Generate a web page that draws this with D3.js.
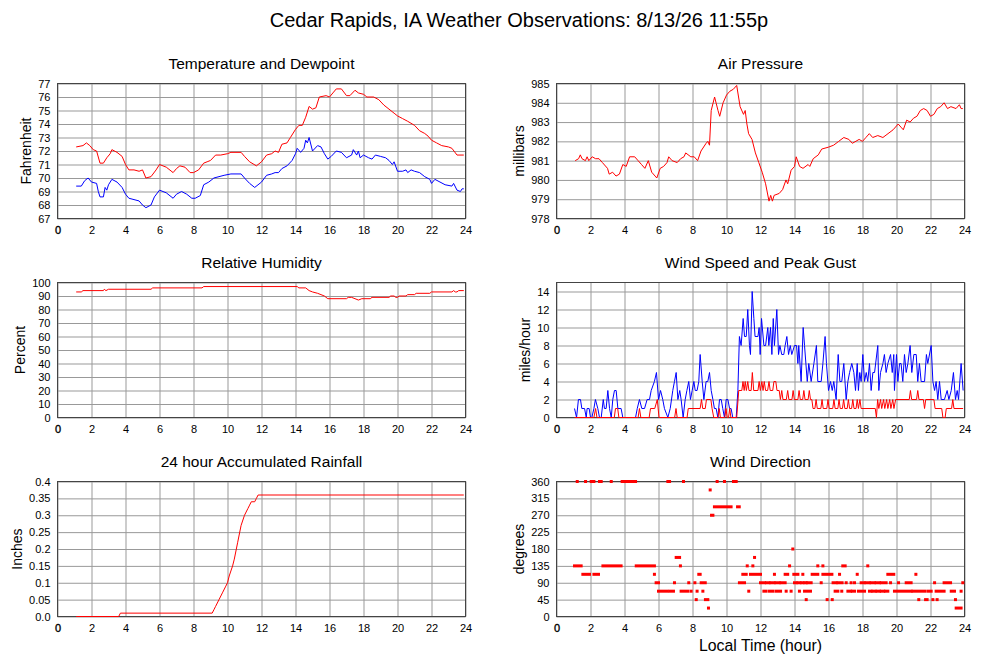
<!DOCTYPE html>
<html><head><meta charset="utf-8">
<script src="https://cdn.jsdelivr.net/npm/d3@7"></script>
<style>
body{margin:0;background:#fff}
text{font-family:"Liberation Sans",Arial,Helvetica,sans-serif;fill:#000}
</style>
</head><body>
<svg id="chart" width="1000" height="660"></svg>
<script>
// ---------------- DATA ----------------
const mainTitle = "Cedar Rapids, IA Weather Observations: 8/13/26 11:55p";
const hourTicks = [0,2,4,6,8,10,12,14,16,18,20,22,24];

const tempTicks = [67,68,69,70,71,72,73,74,75,76,77];
const temperature = [[1.1,72.3],[1.5,72.4],[1.7,72.6],[1.9,72.4],[2.1,72.1],[2.3,72.0],[2.5,71.1],[2.7,71.1],[2.9,71.5],[3.1,71.8],[3.2,72.1],[3.5,71.9],[3.8,71.6],[4.0,71.0],[4.2,70.6],[4.5,70.6],[4.8,70.5],[5.0,70.6],[5.2,70.0],[5.5,70.1],[5.8,70.6],[6.0,71.0],[6.4,70.8],[6.8,70.4],[7.0,70.7],[7.2,70.9],[7.5,70.8],[7.8,70.4],[8.0,70.4],[8.3,70.6],[8.6,71.1],[8.8,71.2],[9.0,71.3],[9.3,71.7],[9.6,71.7],[10.0,71.8],[10.2,71.9],[10.5,71.9],[10.8,71.9],[11.0,71.6],[11.3,71.2],[11.7,70.9],[12.0,71.2],[12.3,71.7],[12.6,71.8],[12.8,72.0],[13.0,71.9],[13.2,72.5],[13.5,72.6],[13.7,73.0],[14.0,73.6],[14.2,73.9],[14.4,73.9],[14.6,74.5],[14.8,75.3],[15.0,75.1],[15.2,75.2],[15.4,76.0],[15.8,76.1],[16.0,76.0],[16.2,76.3],[16.4,76.6],[16.7,76.6],[17.0,76.1],[17.2,76.1],[17.5,76.5],[17.7,76.3],[18.0,76.2],[18.2,76.0],[18.6,76.0],[18.9,75.8],[19.2,75.4],[19.5,75.1],[19.8,74.8],[20.0,74.6],[20.3,74.4],[20.6,74.2],[21.0,73.9],[21.3,73.5],[21.6,73.3],[21.8,73.1],[22.0,72.8],[22.3,72.6],[22.6,72.4],[23.0,72.3],[23.2,72.2],[23.5,71.7],[23.9,71.7]];
const dewpoint = [[1.1,69.4],[1.4,69.4],[1.6,69.8],[1.8,70.0],[2.0,69.7],[2.3,69.6],[2.4,69.0],[2.5,68.6],[2.7,68.6],[2.8,69.3],[2.9,69.1],[3.0,69.5],[3.2,69.9],[3.5,69.7],[3.8,69.3],[4.0,68.8],[4.2,68.5],[4.5,68.4],[4.8,68.3],[5.0,68.0],[5.2,67.8],[5.5,68.0],[5.7,68.6],[6.0,69.1],[6.4,68.9],[6.8,68.5],[7.0,68.8],[7.3,69.0],[7.6,68.8],[7.9,68.5],[8.1,68.5],[8.4,68.7],[8.6,69.5],[8.9,69.7],[9.2,70.0],[9.5,70.1],[9.8,70.2],[10.2,70.3],[10.8,70.3],[11.0,70.0],[11.3,69.6],[11.6,69.3],[12.0,69.7],[12.3,70.2],[12.6,70.3],[12.8,70.4],[13.0,70.4],[13.2,70.7],[13.5,70.9],[13.8,71.3],[14.0,71.8],[14.1,72.2],[14.3,71.9],[14.5,72.2],[14.6,72.8],[14.7,72.6],[14.8,73.0],[15.0,72.0],[15.3,72.4],[15.5,72.3],[15.7,71.8],[15.9,71.4],[16.1,71.6],[16.4,72.0],[16.7,71.9],[17.0,71.5],[17.3,71.7],[17.4,72.1],[17.6,71.7],[17.7,72.0],[17.8,71.5],[18.0,71.7],[18.3,71.5],[18.5,71.4],[18.7,71.7],[19.0,71.6],[19.3,71.5],[19.5,71.3],[19.7,71.0],[19.8,71.2],[20.0,70.5],[20.3,70.5],[20.5,70.6],[20.6,70.4],[20.8,70.6],[21.0,70.5],[21.3,70.4],[21.6,70.1],[21.9,69.9],[22.0,69.6],[22.2,69.9],[22.5,69.7],[22.8,69.5],[23.2,69.4],[23.3,69.6],[23.5,69.1],[23.7,69.0],[23.8,69.2],[23.9,69.2]];

const pressureTicks = [978,979,980,981,982,983,984,985];
const pressure = [[1.1,981.0],[1.3,981.1],[1.4,981.3],[1.5,981.1],[1.7,981.0],[1.8,981.2],[1.9,981.0],[2.1,981.2],[2.3,981.1],[2.5,981.1],[2.7,980.9],[3.0,980.6],[3.1,980.3],[3.3,980.4],[3.5,980.2],[3.7,980.3],[3.9,980.8],[4.1,980.7],[4.3,981.2],[4.6,981.2],[4.8,981.0],[5.0,980.8],[5.2,980.6],[5.4,981.0],[5.6,980.4],[5.8,980.2],[5.9,980.1],[6.1,980.6],[6.3,980.7],[6.5,980.9],[6.6,981.2],[6.8,981.0],[7.1,980.9],[7.3,981.1],[7.5,981.2],[7.6,981.4],[7.9,981.2],[8.1,981.2],[8.3,981.0],[8.5,981.5],[8.8,981.9],[8.9,982.0],[9.0,981.8],[9.1,983.6],[9.3,984.3],[9.5,983.6],[9.6,983.3],[9.8,984.0],[10.0,984.4],[10.2,984.6],[10.4,984.7],[10.6,984.9],[10.8,983.8],[11.0,983.4],[11.1,983.6],[11.2,982.9],[11.3,982.4],[11.5,982.1],[11.7,981.4],[11.9,980.9],[12.1,980.4],[12.3,979.8],[12.5,978.9],[12.6,979.2],[12.7,978.9],[12.8,979.2],[13.1,979.3],[13.3,979.5],[13.5,980.0],[13.6,979.8],[13.8,980.5],[14.0,980.7],[14.1,981.2],[14.3,980.7],[14.5,980.6],[14.8,980.8],[14.9,980.7],[15.1,981.1],[15.4,981.3],[15.6,981.6],[16.0,981.7],[16.3,981.8],[16.6,982.0],[16.9,982.2],[17.2,982.1],[17.4,981.9],[17.8,982.1],[18.0,982.0],[18.2,982.2],[18.4,982.4],[18.6,982.2],[18.9,982.3],[19.2,982.2],[19.5,982.4],[19.8,982.6],[20.1,982.9],[20.3,982.7],[20.4,982.6],[20.6,983.1],[20.8,983.0],[21.0,983.2],[21.2,983.3],[21.4,983.6],[21.6,983.7],[21.8,983.6],[22.0,983.3],[22.2,983.4],[22.4,983.7],[22.6,983.8],[22.8,984.0],[23.0,983.7],[23.2,983.8],[23.5,983.7],[23.7,983.9],[23.8,983.7],[23.9,983.7]];

const humidityTicks = [0,10,20,30,40,50,60,70,80,90,100];
const humidity = [[1.1,93],[1.4,93],[1.5,94],[2.7,94],[2.75,95],[2.85,94],[3.0,95],[5.5,95],[5.6,96],[8.5,96],[8.6,97],[14.1,97],[14.2,96],[14.6,96],[14.8,94],[15.0,93],[15.3,92],[15.5,91],[15.7,90],[15.9,88],[17.0,88],[17.1,89],[17.3,89],[17.5,88],[17.7,87],[17.9,88],[18.4,88],[18.5,89],[19.5,89],[19.6,90],[19.8,90],[19.9,89],[20.0,89],[20.1,90],[20.5,90],[20.6,91],[21.0,91],[21.1,92],[21.9,92],[22.0,93],[23.2,93],[23.3,94],[23.4,93],[23.5,93],[23.6,94],[23.9,94]];

const windTicks = [0,2,4,6,8,10,12,14];
const windGust = [[1.06,1],[1.18,0],[1.29,2],[1.41,2],[1.49,1],[1.65,1],[1.75,0],[1.8,1],[1.92,1],[2.0,0],[2.08,0],[2.2,1],[2.29,2],[2.43,1],[2.53,0],[2.63,0],[2.75,2],[2.82,1],[2.92,1],[3.02,3],[3.12,1],[3.22,0],[3.31,2],[3.41,3],[3.51,3],[3.61,1],[3.8,1],[3.9,0],[4.65,0],[4.75,1],[4.88,2],[5.02,1],[5.18,1],[5.33,2],[5.47,2],[5.57,3],[5.76,4],[5.88,5],[6.0,2],[6.12,3],[6.25,2],[6.35,1],[6.55,0],[6.69,1],[6.84,3],[6.94,4],[7.04,5],[7.14,2],[7.25,3],[7.33,2],[7.45,0],[7.57,2],[7.67,3],[7.78,4],[7.88,2],[7.98,3],[8.08,4],[8.16,3],[8.27,3],[8.37,4],[8.45,7],[8.57,4],[8.67,2],[8.8,4],[8.9,4],[9.0,5],[9.1,3],[9.2,2],[9.29,1],[9.39,1],[9.49,0],[9.59,2],[9.69,2],[9.78,1],[9.88,0],[9.98,2],[10.08,2],[10.18,1],[10.27,1],[10.37,0],[10.57,0],[10.67,3],[10.76,9],[10.86,8],[10.98,11],[11.06,9],[11.16,9],[11.25,12],[11.35,8],[11.41,7],[11.51,14],[11.61,11],[11.68,9],[11.85,9],[11.92,10],[11.98,7],[12.06,11],[12.2,8],[12.3,8],[12.43,10],[12.49,8],[12.59,10],[12.67,7],[12.75,11],[12.82,8],[12.96,12],[13.06,7],[13.14,8],[13.25,7],[13.37,7],[13.45,8],[13.55,9],[13.65,7],[13.75,8],[13.84,7],[14.0,8],[14.12,8],[14.2,6],[14.25,8],[14.39,4],[14.51,10],[14.59,8],[14.75,4],[14.84,6],[14.98,4],[15.14,6],[15.29,8],[15.37,4],[15.57,4],[15.67,6],[15.8,9],[15.88,6],[16.0,3],[16.12,4],[16.22,3],[16.31,4],[16.45,2],[16.57,7],[16.67,4],[16.78,4],[16.9,6],[17.04,2],[17.14,4],[17.24,5],[17.37,6],[17.49,5],[17.59,3],[17.69,6],[17.76,3],[17.84,5],[17.92,4],[18.02,7],[18.12,4],[18.22,5],[18.31,4],[18.41,6],[18.51,3],[18.61,5],[18.71,5],[18.9,8],[18.96,3],[19.06,5],[19.2,6],[19.29,7],[19.39,5],[19.49,6],[19.65,7],[19.75,5],[19.84,7],[19.88,3],[20.0,7],[20.08,4],[20.18,6],[20.27,6],[20.37,4],[20.47,7],[20.57,5],[20.67,6],[20.8,8],[20.9,5],[21.02,7],[21.16,7],[21.25,4],[21.35,6],[21.45,4],[21.65,4],[21.76,7],[21.84,6],[22.04,8],[22.14,4],[22.24,3],[22.33,4],[22.43,2],[22.53,4],[22.63,2],[22.82,2],[22.98,3],[23.08,2],[23.22,3],[23.35,5],[23.47,2],[23.57,3],[23.65,2],[23.8,6],[23.92,3]];
const windSpeed = [[1.06,0],[2.2,0],[2.3,1],[2.38,0],[3.4,0],[3.47,1],[3.6,1],[3.67,0],[4.8,0],[4.88,1],[4.96,0],[5.45,0],[5.53,1],[5.78,1],[5.93,2],[6.03,0],[6.95,0],[7.03,1],[7.1,0],[7.68,0],[7.75,1],[8.45,1],[8.53,2],[8.6,1],[8.75,1],[8.82,2],[9.08,2],[9.15,1],[9.25,0],[9.5,0],[9.57,1],[9.64,0],[9.9,0],[9.97,1],[10.04,0],[10.12,0],[10.19,1],[10.26,0],[10.6,0],[10.72,3],[10.9,3],[10.97,4],[11.04,3],[11.1,4],[11.17,3],[11.25,4],[11.32,3],[11.45,3],[11.52,5],[11.6,3],[11.85,3],[11.92,4],[11.99,3],[12.08,4],[12.15,3],[12.22,4],[12.3,3],[12.42,3],[12.5,4],[12.57,3],[12.72,3],[12.79,4],[12.9,4],[12.97,3],[13.1,3],[13.17,2],[13.25,3],[13.32,2],[13.52,2],[13.6,3],[13.67,2],[13.85,2],[13.92,3],[13.99,2],[14.2,2],[14.27,3],[14.34,2],[14.48,2],[14.55,3],[14.62,2],[14.8,2],[14.87,3],[14.94,2],[15.02,2],[15.09,1],[15.2,1],[15.27,2],[15.34,1],[15.55,1],[15.62,2],[15.69,1],[15.9,1],[15.97,2],[16.04,1],[16.25,1],[16.32,2],[16.39,1],[16.55,1],[16.62,2],[16.69,1],[16.82,1],[16.89,2],[16.96,1],[17.1,1],[17.17,2],[17.24,1],[17.36,1],[17.43,2],[17.5,1],[17.62,1],[17.69,2],[17.76,1],[17.85,2],[17.92,1],[18.75,1],[18.82,0],[18.89,2],[18.96,1],[19.06,2],[19.13,1],[19.24,2],[19.31,1],[19.42,2],[19.49,1],[19.6,2],[19.67,1],[19.78,2],[19.85,1],[19.95,2],[20.75,2],[20.82,3],[20.89,2],[21.18,2],[21.25,3],[21.32,2],[21.58,2],[21.65,1],[21.72,2],[22.2,2],[22.27,1],[22.66,1],[22.73,0],[22.86,0],[22.93,1],[23.24,1],[23.31,2],[23.38,1],[23.92,1]];

const rainTicks = [0,0.05,0.1,0.15,0.2,0.25,0.3,0.35,0.4];
const rainTickLabels = ["0.0","0.05","0.1","0.15","0.2","0.25","0.3","0.35","0.4"];
const rainfall = [[1.1,0],[3.6,0],[3.7,0.01],[9.1,0.01],[9.2,0.02],[9.3,0.03],[9.5,0.05],[9.7,0.07],[9.9,0.09],[10.0,0.10],[10.1,0.12],[10.3,0.15],[10.4,0.17],[10.6,0.22],[10.8,0.27],[11.0,0.30],[11.2,0.32],[11.3,0.33],[11.4,0.34],[11.6,0.34],[11.7,0.35],[11.8,0.36],[23.9,0.36]];

const directionTicks = [0,45,90,135,180,225,270,315,360];
// runs of observations: [start hour, end hour, degrees]
const windDirection = [
 [1.22,1.22,360],[1.71,1.71,360],[2.04,2.2,360],[2.53,2.63,360],[3.22,3.22,360],[3.86,4.65,360],[6.55,6.65,360],[7.47,7.47,360],[9.45,9.45,360],[9.88,9.88,360],[10.41,10.57,360],
 [9.04,9.04,337.5],
 [9.29,10.27,292.5],[10.65,10.75,292.5],
 [9.12,9.2,270],
 [13.9,13.9,180],
 [7.04,7.24,157.5],[11.65,11.65,157.5],
 [1.06,1.45,135],[2.73,3.8,135],[4.69,5.76,135],[7.29,7.29,135],[11.22,11.22,135],[11.55,11.55,135],[13.71,13.71,135],[15.37,15.37,135],[15.67,15.67,135],[16.84,16.98,135],[18.31,18.31,135],
 [1.55,1.94,112.5],[2.2,2.47,112.5],[5.76,5.76,112.5],[8.37,8.45,112.5],[10.96,11.16,112.5],[11.41,12.0,112.5],[12.82,12.82,112.5],[13.45,13.6,112.5],[13.96,14.2,112.5],[14.49,14.49,112.5],[15.04,15.37,112.5],[15.67,16.2,112.5],[16.65,16.65,112.5],[17.69,17.69,112.5],[19.49,19.84,112.5],[21.14,21.14,112.5],
 [5.86,6.0,90],[6.94,6.94,90],[7.78,7.78,90],[8.14,8.14,90],[8.51,8.75,90],[10.76,11.06,90],[12.0,12.24,90],[12.35,12.5,90],[12.6,12.8,90],[12.9,13.1,90],[13.2,13.45,90],[14.0,14.1,90],[14.2,14.32,90],[14.42,14.5,90],[14.6,14.69,90],[14.75,14.98,90],[15.57,15.57,90],[16.27,16.45,90],[16.55,16.8,90],[17.04,17.04,90],[17.33,17.33,90],[17.53,17.53,90],[17.92,18.1,90],[18.2,18.4,90],[18.5,18.7,90],[18.8,19.0,90],[19.1,19.39,90],[19.65,19.65,90],[20.12,20.12,90],[20.57,20.86,90],[22.24,22.24,90],[22.8,23.18,90],[23.9,23.9,90],
 [6.0,6.49,67.5],[6.65,6.88,67.5],[7.33,7.73,67.5],[7.92,7.92,67.5],[8.27,8.27,67.5],[8.61,8.61,67.5],[11.31,11.31,67.5],[12.2,12.33,67.5],[12.53,12.73,67.5],[12.92,13.18,67.5],[13.51,13.51,67.5],[13.8,13.8,67.5],[14.29,14.29,67.5],[14.59,14.94,67.5],[16.39,16.55,67.5],[16.78,16.78,67.5],[17.14,17.3,67.5],[17.4,17.53,67.5],[17.76,18.12,67.5],[18.41,18.5,67.5],[18.6,18.75,67.5],[18.85,19.0,67.5],[19.1,19.25,67.5],[19.35,19.49,67.5],[19.88,20.86,67.5],[20.96,21.65,67.5],[21.84,22.04,67.5],[22.33,22.8,67.5],[23.22,23.41,67.5],[23.8,23.8,67.5],
 [8.22,8.22,45],[8.76,8.9,45],[14.69,14.69,45],[15.92,15.92,45],[16.22,16.22,45],[21.31,21.31,45],[21.71,21.8,45],[22.14,22.14,45],[22.39,22.39,45],[23.47,23.47,45],
 [8.94,8.94,22.5],[23.51,23.8,22.5]
];

// ---------------- DRAWING ----------------
const svg = d3.select("#chart");
const W = 408, H = 135;
const RED = "#ff0000", BLUE = "#0000ff";

svg.append("text").attr("x", 519).attr("y", 27).attr("text-anchor","middle")
  .style("font-size","20px").text(mainTitle);

function panel(opt){
  const g = svg.append("g").attr("transform", `translate(${opt.left},${opt.top})`);
  const x = d3.scaleLinear().domain([0,24]).range([0,W]);
  const y = d3.scaleLinear().domain(opt.domain).range([H,0]);
  g.append("rect").attr("width",W).attr("height",H).attr("fill","#fff");
  const xa = g.append("g").attr("transform",`translate(0,${H})`)
    .call(d3.axisBottom(x).tickValues(hourTicks).tickSize(-H).tickPadding(8).tickFormat(d3.format("d")));
  const ya = g.append("g")
    .call(d3.axisLeft(y).tickValues(opt.ticks).tickSize(-W).tickPadding(7)
      .tickFormat((d,i)=> opt.labels ? opt.labels[i] : String(d)));
  [xa, ya].forEach(a=>{
    a.attr("font-size",null).attr("font-family",null);
    a.select(".domain").remove();
    a.selectAll("line").attr("stroke","#999").attr("stroke-width",1);
    a.selectAll("text").style("font-size","11px").attr("fill","#000");
  });
  xa.selectAll("text").filter(d=>d===0).attr("stroke","#000").attr("stroke-width",0.35);
  g.append("rect").attr("width",W).attr("height",H).attr("fill","none")
    .attr("stroke","#444").attr("stroke-width",1);
  g.append("text").attr("x",W/2).attr("y",-14.5).attr("text-anchor","middle")
    .style("font-size","15.5px").text(opt.title);
  let minX = 0;
  ya.selectAll("text").each(function(){ const b=this.getBBox(); minX=Math.min(minX,b.x); });
  g.append("text").attr("transform",`translate(${minX-7},${H/2}) rotate(-90)`)
    .attr("text-anchor","middle").style("font-size","14px").text(opt.ylabel);
  return {g,x,y};
}

const L1 = 57.5, L2 = 556.5, T1 = 83.5, T2 = 282.5, T3 = 481.5;

{
  const p = panel({left:L1, top:T1, domain:[67,77], ticks:tempTicks, title:"Temperature and Dewpoint", ylabel:"Fahrenheit"});
  const line = d3.line().x(d=>p.x(d[0])).y(d=>p.y(d[1]));
  p.g.append("path").datum(temperature).attr("d",line).attr("fill","none").attr("stroke",RED).attr("stroke-width",1);
  p.g.append("path").datum(dewpoint).attr("d",line).attr("fill","none").attr("stroke",BLUE).attr("stroke-width",1);
}
{
  const p = panel({left:L2, top:T1, domain:[978,985], ticks:pressureTicks, title:"Air Pressure", ylabel:"millibars"});
  const line = d3.line().x(d=>p.x(d[0])).y(d=>p.y(d[1]));
  p.g.append("path").datum(pressure).attr("d",line).attr("fill","none").attr("stroke",RED).attr("stroke-width",1);
}
{
  const p = panel({left:L1, top:T2, domain:[0,100], ticks:humidityTicks, title:"Relative Humidity", ylabel:"Percent"});
  const line = d3.line().x(d=>p.x(d[0])).y(d=>p.y(d[1]));
  p.g.append("path").datum(humidity).attr("d",line).attr("fill","none").attr("stroke",RED).attr("stroke-width",1);
}
{
  const p = panel({left:L2, top:T2, domain:[0,15], ticks:windTicks, title:"Wind Speed and Peak Gust", ylabel:"miles/hour"});
  const line = d3.line().x(d=>p.x(d[0])).y(d=>p.y(d[1]));
  p.g.append("path").datum(windGust).attr("d",line).attr("fill","none").attr("stroke",BLUE).attr("stroke-width",1);
  p.g.append("path").datum(windSpeed).attr("d",line).attr("fill","none").attr("stroke",RED).attr("stroke-width",1);
}
{
  const p = panel({left:L1, top:T3, domain:[0,0.4], ticks:rainTicks, labels:rainTickLabels, title:"24 hour Accumulated Rainfall", ylabel:"Inches"});
  const line = d3.line().x(d=>p.x(d[0])).y(d=>p.y(d[1]));
  p.g.append("path").datum(rainfall).attr("d",line).attr("fill","none").attr("stroke",RED).attr("stroke-width",1);
}
{
  const p = panel({left:L2, top:T3, domain:[0,360], ticks:directionTicks, title:"Wind Direction", ylabel:"degrees"});
  p.g.selectAll("rect.dir").data(windDirection).join("rect").attr("class","dir")
    .attr("x",d=>p.x(d[0])-1.5).attr("width",d=>p.x(d[1])-p.x(d[0])+3)
    .attr("y",d=>p.y(d[2])-1.5).attr("height",3).attr("fill",RED);
  p.g.append("text").attr("x",W/2).attr("y",H+34).attr("text-anchor","middle")
    .style("font-size","15.8px").text("Local Time (hour)");
}
</script>
</body></html>
